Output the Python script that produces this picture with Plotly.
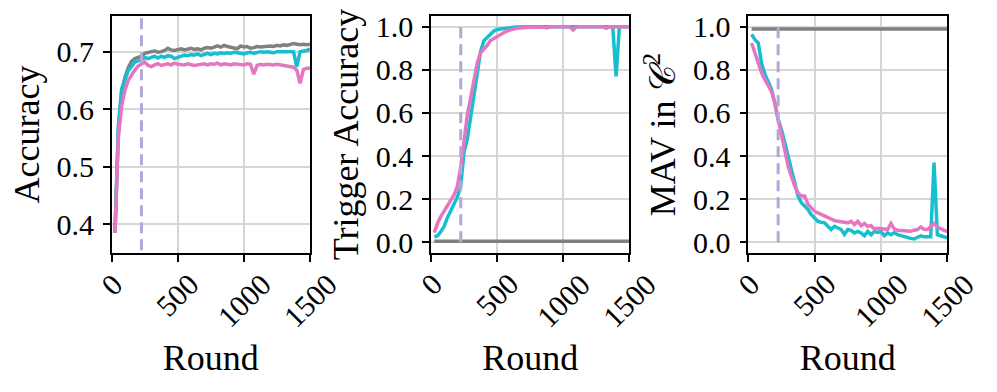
import plotly.graph_objects as go
from plotly.subplots import make_subplots

# rounds at which the metrics were logged
rounds = list(range(25, 1501, 25))
attack_start = 225
round_ticks = [0, 500, 1000, 1500]
round_ticktext = ["0", "500", "1000", "1500"]

# ---- Accuracy (main task) ----
acc_gray = [0.385, 0.56, 0.63, 0.655, 0.672, 0.683, 0.688, 0.69, 0.692, 0.697,
            0.699, 0.7, 0.701, 0.699, 0.7, 0.702, 0.706, 0.703, 0.702, 0.704,
            0.705, 0.703, 0.704, 0.706, 0.704, 0.705, 0.703, 0.706, 0.707, 0.706,
            0.708, 0.71, 0.708, 0.711, 0.709, 0.708, 0.707, 0.705, 0.71, 0.708,
            0.709, 0.706, 0.707, 0.709, 0.708, 0.709, 0.71, 0.71, 0.709, 0.711,
            0.71, 0.712, 0.711, 0.713, 0.714, 0.713, 0.712, 0.713, 0.712, 0.713]
acc_cyan = [0.385, 0.57, 0.635, 0.652, 0.667, 0.674, 0.682, 0.684, 0.686, 0.69,
            0.688, 0.69, 0.692, 0.689, 0.692, 0.69, 0.693, 0.692, 0.688, 0.69,
            0.692, 0.694, 0.693, 0.695, 0.694, 0.696, 0.693, 0.695, 0.697, 0.695,
            0.697, 0.696, 0.698, 0.697, 0.698, 0.697, 0.699, 0.698, 0.697, 0.696,
            0.698, 0.699, 0.697, 0.698, 0.7, 0.699, 0.7, 0.699, 0.698, 0.7,
            0.7, 0.701, 0.7, 0.701, 0.7, 0.674, 0.7, 0.701, 0.702, 0.705]
acc_pink = [0.385, 0.55, 0.605, 0.633, 0.65, 0.66, 0.668, 0.675, 0.678, 0.682,
            0.676, 0.674, 0.677, 0.679, 0.676, 0.678, 0.679, 0.677, 0.68, 0.678,
            0.678, 0.677, 0.679, 0.678, 0.676, 0.677, 0.678, 0.679, 0.677, 0.679,
            0.678, 0.68, 0.677, 0.679, 0.678, 0.677, 0.679, 0.678, 0.678, 0.677,
            0.679, 0.678, 0.661, 0.676, 0.678, 0.677, 0.678, 0.677, 0.677, 0.678,
            0.677, 0.676, 0.675, 0.673, 0.673, 0.668, 0.645, 0.669, 0.671, 0.671]

# ---- Trigger accuracy ----
trig_gray = [0.005] * 60
trig_cyan = [0.025, 0.03, 0.05, 0.075, 0.115, 0.15, 0.175, 0.21, 0.26, 0.42,
             0.48, 0.58, 0.7, 0.79, 0.885, 0.935, 0.95, 0.966, 0.98, 0.987,
             0.99, 0.993, 0.995, 0.997, 0.998, 0.999, 1.0, 1.0, 1.0, 1.0,
             1.0, 1.0, 1.0, 1.0, 1.0, 1.0, 1.0, 1.0, 1.0, 1.0,
             1.0, 1.0, 1.0, 1.0, 1.0, 1.0, 1.0, 1.0, 1.0, 1.0,
             1.0, 1.0, 1.0, 1.0, 1.0, 0.77, 1.0, 1.0, 1.0, 1.0]
trig_pink = [0.045, 0.089, 0.12, 0.144, 0.167, 0.19, 0.221, 0.26, 0.352, 0.469,
             0.593, 0.67, 0.763, 0.833, 0.879, 0.894, 0.914, 0.936, 0.945, 0.958,
             0.964, 0.972, 0.98, 0.986, 0.99, 0.993, 0.995, 0.996, 0.997, 0.998,
             0.998, 0.999, 0.999, 0.999, 0.995, 1.0, 1.0, 1.0, 1.0, 1.0,
             1.0, 1.0, 0.985, 1.0, 1.0, 1.0, 1.0, 1.0, 1.0, 1.0,
             1.0, 1.0, 0.993, 1.0, 1.0, 1.0, 1.0, 1.0, 1.0, 1.0]

# ---- MAV in C^2 ----
mav_gray = [0.99] * 60
mav_cyan = [0.965, 0.94, 0.925, 0.83, 0.78, 0.747, 0.71, 0.646, 0.569, 0.523,
            0.461, 0.384, 0.337, 0.275, 0.214, 0.183, 0.167, 0.152, 0.128, 0.113,
            0.097, 0.093, 0.09, 0.074, 0.059, 0.074, 0.066, 0.059, 0.036, 0.059,
            0.055, 0.043, 0.05, 0.043, 0.03, 0.05, 0.035, 0.05, 0.045, 0.05,
            0.03, 0.043, 0.035, 0.045, 0.035, 0.03, 0.025, 0.02, 0.018, 0.015,
            0.022, 0.03, 0.025, 0.025, 0.025, 0.37, 0.035, 0.03, 0.024, 0.02]
mav_pink = [0.925, 0.878, 0.832, 0.786, 0.755, 0.731, 0.7, 0.646, 0.569, 0.492,
            0.415, 0.353, 0.306, 0.26, 0.229, 0.214, 0.214, 0.175, 0.16, 0.144,
            0.136, 0.128, 0.121, 0.113, 0.105, 0.1, 0.097, 0.095, 0.09, 0.09,
            0.097, 0.082, 0.097, 0.077, 0.087, 0.074, 0.077, 0.062, 0.065, 0.062,
            0.062, 0.059, 0.087, 0.062, 0.056, 0.055, 0.053, 0.052, 0.051, 0.056,
            0.059, 0.071, 0.06, 0.059, 0.075, 0.087, 0.071, 0.062, 0.055, 0.051]

panels = [
    ("Accuracy", acc_gray, acc_cyan, acc_pink, [0.35, 0.762], [0.4, 0.5, 0.6, 0.7]),
    ("Trigger Accuracy", trig_gray, trig_cyan, trig_pink, [-0.05, 1.05], [0, 0.2, 0.4, 0.6, 0.8, 1.0]),
    ("MAV in 𝒞<sup>2</sup>", mav_gray, mav_cyan, mav_pink, [-0.05, 1.05], [0, 0.2, 0.4, 0.6, 0.8, 1.0]),
]

GRAY = "#808080"
CYAN = "#17becf"
PINK = "#e377c2"
LAVENDER = "#b3a7d9"
FONT = "Liberation Serif"
W, H = 997, 392

# pixel boxes of each plot area
x_boxes = [(111.7, 310.0), (431.0, 629.3), (748.3, 947.3)]
y_box = (16.0, 253.0)

fig = make_subplots(rows=1, cols=3)

for i, (label, g, c, p, yr, yt) in enumerate(panels):
    col = i + 1
    for series, color in ((g, GRAY), (c, CYAN), (p, PINK)):
        fig.add_trace(go.Scatter(x=rounds, y=series, mode="lines",
                                 line=dict(color=color, width=3.5),
                                 showlegend=False), row=1, col=col)
    fig.add_trace(go.Scatter(x=[attack_start, attack_start], y=[0, 1], mode="lines",
                             line=dict(color=LAVENDER, width=3, dash="11px,6px"),
                             showlegend=False), row=1, col=col)

    xa = "xaxis" if i == 0 else f"xaxis{col}"
    ya = "yaxis" if i == 0 else f"yaxis{col}"
    xref = "x" if i == 0 else f"x{col}"
    x0, x1 = x_boxes[i]
    fig.layout[xa].update(
        domain=[x0 / W, x1 / W], range=[0, 1500],
        tickvals=round_ticks, showticklabels=False,
        title=dict(text="Round", standoff=84),
    )
    fig.layout[ya].update(
        domain=[1 - y_box[1] / H, 1 - y_box[0] / H], range=yr,
        tickvals=yt, tickformat=".1f", ticklabelstandoff=3,
        title=dict(text=label, standoff=6),
    )
    # rotated round labels, centred under each tick (matplotlib style)
    for v, t in zip(round_ticks, round_ticktext):
        fig.add_annotation(x=v, xref=xref, y=1 - 273 / H, yref="paper",
                           text=t, textangle=-45, showarrow=False,
                           xanchor="center", yanchor="top", yshift=7,
                           font=dict(size=30), borderpad=0)

fig.update_xaxes(showline=True, mirror=True, linecolor="black", linewidth=1.6,
                 ticks="outside", ticklen=7, tickwidth=1.6, tickcolor="black",
                 showgrid=True, gridcolor="#d6d6d6", gridwidth=1.5, zeroline=False,
                 automargin=False, tickfont=dict(size=30))
fig.update_yaxes(showline=True, mirror=True, linecolor="black", linewidth=1.6,
                 ticks="outside", ticklen=7, tickwidth=1.6, tickcolor="black",
                 showgrid=True, gridcolor="#d6d6d6", gridwidth=1.5, zeroline=False,
                 automargin=False, tickfont=dict(size=30))

fig.update_layout(
    width=W, height=H,
    margin=dict(l=0, r=0, t=0, b=0),
    plot_bgcolor="white", paper_bgcolor="white",
    font=dict(family=FONT, size=30, color="black"),
)

# drop the default page margin so the figure sits at the window origin
fig.write_html("out.html", config={"displayModeBar": False},
               post_script="document.body.style.margin='0';")
